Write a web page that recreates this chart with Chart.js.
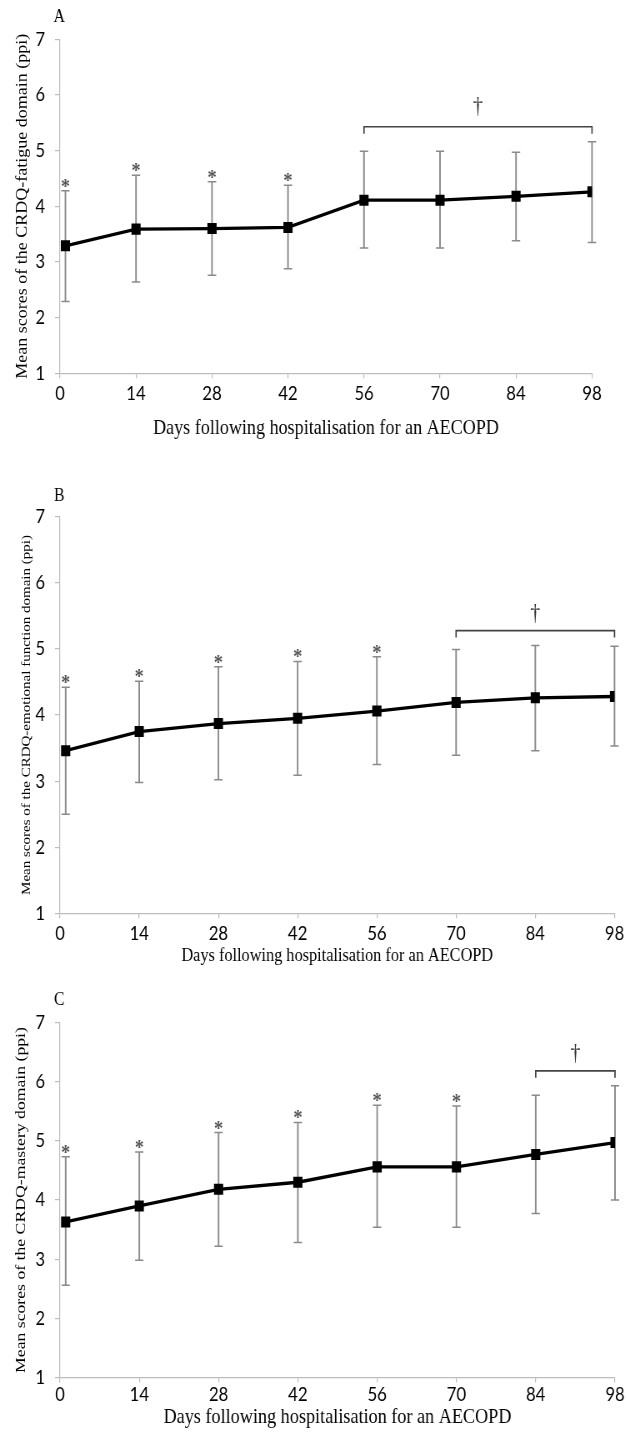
<!DOCTYPE html>
<html>
<head>
<meta charset="utf-8">
<script src="https://cdn.jsdelivr.net/npm/chart.js@4.4.1/dist/chart.umd.min.js"></script>
<style>
  html, body { margin: 0; padding: 0; background: #fff; overflow: hidden; }
  body { width: 627px; height: 1436px; position: relative; }
  .panel { position: absolute; left: 0; width: 752px; transform: scaleX(0.833333); transform-origin: 0 0; }
  canvas { display: block; }
</style>
</head>
<body>
<div class="panel" style="top:0px;height:445px"><canvas id="cA" width="752" height="445"></canvas></div>
<div class="panel" style="top:450px;height:525px"><canvas id="cB" width="752" height="525"></canvas></div>
<div class="panel" style="top:975px;height:461px"><canvas id="cC" width="752" height="461"></canvas></div>
<script>
// ---------------- DATA ----------------
const days = [1, 14, 28, 42, 56, 70, 84, 98];
const xTickValues = [0, 14, 28, 42, 56, 70, 84, 98];
const yTickValues = [1, 2, 3, 4, 5, 6, 7];
const xTitle = "Days following hospitalisation for an AECOPD";

// Panel A – fatigue
const fatigueMean  = [3.29, 3.59, 3.60, 3.62, 4.11, 4.11, 4.18, 4.26];
const fatigueUpper = [4.28, 4.56, 4.44, 4.38, 4.99, 4.99, 4.97, 5.16];
const fatigueLower = [2.29, 2.64, 2.76, 2.88, 3.25, 3.25, 3.38, 3.35];
const fatigueStarDays = [1, 14, 28, 42];
const fatigueBracket = [56, 98];
const fatigueTitle = "Mean scores of the CRDQ-fatigue domain (ppi)";

// Panel B – emotional function
const emotionalMean  = [3.46, 3.75, 3.87, 3.95, 4.06, 4.19, 4.26, 4.28];
const emotionalUpper = [4.42, 4.51, 4.73, 4.81, 4.88, 4.99, 5.05, 5.04];
const emotionalLower = [2.50, 2.98, 3.02, 3.09, 3.25, 3.39, 3.46, 3.53];
const emotionalStarDays = [1, 14, 28, 42, 56];
const emotionalBracket = [70, 98];
const emotionalTitle = "Mean scores of the CRDQ-emotional function domain (ppi)";

// Panel C – mastery
const masteryMean  = [3.63, 3.90, 4.18, 4.30, 4.56, 4.56, 4.77, 4.97];
const masteryUpper = [4.73, 4.81, 5.14, 5.31, 5.60, 5.59, 5.77, 5.93];
const masteryLower = [2.56, 2.98, 3.22, 3.28, 3.54, 3.54, 3.77, 4.00];
const masteryStarDays = [1, 14, 28, 42, 56, 70];
const masteryBracket = [84, 98];
const masteryTitle = "Mean scores of the CRDQ-mastery domain (ppi)";

// ---------------- HELPERS ----------------
const SX = 1.2; // horizontal stretch of canvas space (compressed by CSS)
const SERIF = "'Liberation Serif', 'Times New Roman', serif";
const SANS = "Lato, 'Open Sans', sans-serif";
const mctx = document.createElement('canvas').getContext('2d');
function fitSize(text, target) {
  mctx.font = "100px " + SERIF;
  return 100 * target / mctx.measureText(text).width;
}

const annotPlugin = {
  id: 'annot',
  beforeDatasetsDraw(chart, args, o) {
    const ctx = chart.ctx, xs = chart.scales.x, ys = chart.scales.y;
    ctx.save();
    ctx.strokeStyle = '#8a8a8a';
    days.forEach((d, i) => {
      const x = xs.getPixelForValue(d);
      const yt = ys.getPixelForValue(o.upper[i]);
      const yb = ys.getPixelForValue(o.lower[i]);
      ctx.lineWidth = 1.9;
      ctx.beginPath();
      ctx.moveTo(x, yt); ctx.lineTo(x, yb);
      ctx.stroke();
      ctx.lineWidth = 1.5;
      ctx.beginPath();
      ctx.moveTo(x - 5, yt); ctx.lineTo(x + 5, yt);
      ctx.moveTo(x - 5, yb); ctx.lineTo(x + 5, yb);
      ctx.stroke();
    });
    ctx.restore();
  },
  afterDatasetsDraw(chart, args, o) {
    const ctx = chart.ctx, xs = chart.scales.x, ys = chart.scales.y;
    ctx.save();
    // stars
    ctx.fillStyle = '#555';
    ctx.font = "bold 22px " + SERIF;
    ctx.textAlign = 'center';
    ctx.textBaseline = 'alphabetic';
    o.stars.forEach(d => {
      const i = days.indexOf(d);
      const x = xs.getPixelForValue(d);
      const y = ys.getPixelForValue(o.upper[i]);
      ctx.fillText('*', x, y + 2);
    });
    // bracket
    const x1 = xs.getPixelForValue(o.bracket[0]);
    const x2 = xs.getPixelForValue(o.bracket[1]);
    let topMost = Infinity;
    days.forEach((d, i) => {
      if (d >= o.bracket[0] && d <= o.bracket[1]) topMost = Math.min(topMost, ys.getPixelForValue(o.upper[i]));
    });
    const by = topMost - 15;
    ctx.strokeStyle = '#444';
    ctx.lineWidth = 1.7;
    ctx.beginPath();
    ctx.moveTo(x1, by + 7); ctx.lineTo(x1, by); ctx.lineTo(x2, by); ctx.lineTo(x2, by + 7);
    ctx.stroke();
    ctx.fillStyle = '#333';
    ctx.font = "24px " + SERIF;
    ctx.textBaseline = 'middle';
    ctx.fillText('\u2020', (x1 + x2) / 2, by - o.daggerGap);
    // panel letter
    ctx.fillStyle = '#000';
    ctx.font = "19px " + SERIF;
    ctx.fillText(o.letter, chart.chartArea.left - 1, chart.chartArea.top - o.letterGap);
    ctx.restore();
  }
};

function makeChart(id, cfg) {
  const canvas = document.getElementById(id);
  const H = canvas.height, W = canvas.width;
  const ySize = fitSize(cfg.yTitle, cfg.yTitleLen);
  const xSize = fitSize(xTitle, cfg.xTitleLen * SX);
  const yLh = ySize * 1.2, xLh = xSize * 1.2;
  return new Chart(canvas, {
    type: 'line',
    data: {
      datasets: [{
        data: days.map((d, i) => ({ x: d, y: cfg.mean[i] })),
        borderColor: '#000',
        backgroundColor: '#000',
        borderWidth: 3.3,
        pointStyle: 'rect',
        pointRadius: 7.8,
        pointBorderWidth: 0,
        pointBackgroundColor: '#000',
        tension: 0
      }]
    },
    plugins: [annotPlugin],
    options: {
      responsive: false,
      devicePixelRatio: 1,
      animation: false,
      events: [],
      layout: { padding: { top: cfg.top, right: W - cfg.right * SX, left: 0, bottom: 0 } },
      plugins: {
        legend: { display: false },
        tooltip: { enabled: false },
        annot: {
          upper: cfg.upper, lower: cfg.lower, stars: cfg.stars, bracket: cfg.bracket,
          letter: cfg.letter, letterGap: cfg.letterGap, daggerGap: cfg.daggerGap
        }
      },
      scales: {
        x: {
          type: 'linear', min: 0, max: 98,
          afterBuildTicks: s => { s.ticks = xTickValues.map(v => ({ value: v })); },
          afterFit: s => { s.height = H - cfg.bottom; },
          border: { color: '#bdbdbd', width: 1.2 },
          grid: { drawOnChartArea: false, drawTicks: true, tickLength: 5, color: '#bdbdbd', lineWidth: 1.2 },
          ticks: { autoSkip: false, maxRotation: 0, padding: cfg.xTickPad, color: '#000', font: { family: SANS, size: 20 } },
          title: {
            display: true, text: xTitle, color: '#000',
            font: { family: SERIF, size: xSize },
            padding: { top: 0, bottom: H - cfg.xTitleY - xLh / 2 }
          }
        },
        y: {
          type: 'linear', min: 1, max: 7,
          afterBuildTicks: s => { s.ticks = yTickValues.map(v => ({ value: v })); },
          afterFit: s => { s.width = 60 * SX; },
          border: { color: '#bdbdbd', width: 1.2 },
          grid: { drawOnChartArea: false, drawTicks: true, tickLength: 6, color: '#bdbdbd', lineWidth: 1.2 },
          ticks: { padding: 12, color: '#000', font: { family: SANS, size: 20 } },
          title: {
            display: true, text: cfg.yTitle, color: '#000',
            font: { family: SERIF, size: ySize },
            padding: { top: cfg.yTitleX * SX - yLh / 2, bottom: 0 }
          }
        }
      }
    }
  });
}

makeChart('cA', {
  mean: fatigueMean, upper: fatigueUpper, lower: fatigueLower, stars: fatigueStarDays, bracket: fatigueBracket,
  yTitle: fatigueTitle, yTitleLen: 345, xTitleLen: 346, xTitleY: 428, yTitleX: 22.5,
  top: 39.3, bottom: 373.3, right: 592, xTickPad: 3, letter: 'A', letterGap: 22, daggerGap: 20
});
makeChart('cB', {
  mean: emotionalMean, upper: emotionalUpper, lower: emotionalLower, stars: emotionalStarDays, bracket: emotionalBracket,
  yTitle: emotionalTitle, yTitleLen: 360, xTitleLen: 312, xTitleY: 956 - 450, yTitleX: 26.5,
  top: 516.7 - 450, bottom: 913.3 - 450, right: 616, xTickPad: 3, letter: 'B', letterGap: 21, daggerGap: 17
});
makeChart('cC', {
  mean: masteryMean, upper: masteryUpper, lower: masteryLower, stars: masteryStarDays, bracket: masteryBracket,
  yTitle: masteryTitle, yTitleLen: 346, xTitleLen: 348, xTitleY: 1417 - 975, yTitleX: 21.5,
  top: 1022.5 - 975, bottom: 1377.5 - 975, right: 615, xTickPad: 0, letter: 'C', letterGap: 22.5, daggerGap: 17
});
</script>
</body>
</html>
